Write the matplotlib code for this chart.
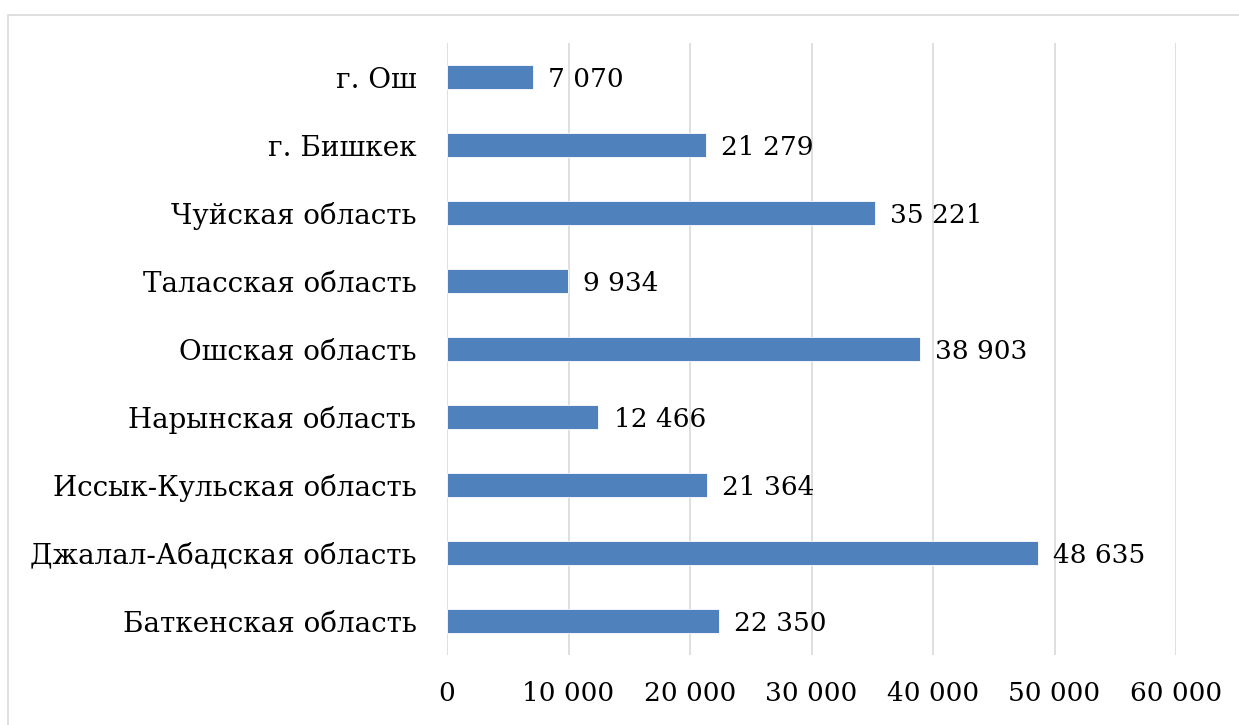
import matplotlib
matplotlib.use("Agg")
import matplotlib.pyplot as plt
from matplotlib.patches import Rectangle

categories = ["Баткенская область", "Джалал-Абадская область", "Иссык-Кульская область",
              "Нарынская область", "Ошская область", "Таласская область",
              "Чуйская область", "г. Бишкек", "г. Ош"]
values = [22350, 48635, 21364, 12466, 38903, 9934, 35221, 21279, 7070]
xticks = [0, 10000, 20000, 30000, 40000, 50000, 60000]

def fmt(v):
    return f"{v:,}".replace(",", " ")

plt.rcParams['font.family'] = ['DejaVu Serif']
FS_CAT = 20
FS_NUM = 19
W, H = 1239, 725
fig = plt.figure(figsize=(W / 100, H / 100), dpi=100)
fig.patches.append(Rectangle((8 / W, -0.05), 1.2, 1 - 15 / H + 0.05, transform=fig.transFigure,
                             fill=False, edgecolor="#D9D9D9", linewidth=1.2))
ax = fig.add_axes([447 / W, 1 - 655 / H, (1176 - 447) / W, (655 - 43) / H])

y = list(range(len(categories)))
ax.barh(y, values, height=0.35, color="#4F81BD", edgecolor="#FFFFFF", linewidth=0.6, zorder=3)
for yi, v in zip(y, values):
    ax.annotate(fmt(v), (v, yi), xytext=(11, -1.5), textcoords="offset points",
                va="center", ha="left", fontsize=FS_NUM, color="black")

ax.set_xlim(0, 60000)
ax.set_ylim(-0.5, len(categories) - 0.5)
ax.set_xticks(xticks)
ax.set_xticklabels([fmt(t) for t in xticks], fontsize=FS_NUM)
ax.set_yticks(y)
ax.set_yticklabels(categories, fontsize=FS_CAT)
ax.tick_params(axis="both", length=0)
ax.tick_params(axis="x", pad=19)
ax.tick_params(axis="y", pad=22)
ax.grid(axis="x", color="#D9D9D9", linewidth=1.2, zorder=0)
for s in ax.spines.values():
    s.set_visible(False)

fig.savefig("out.png", dpi=100)
